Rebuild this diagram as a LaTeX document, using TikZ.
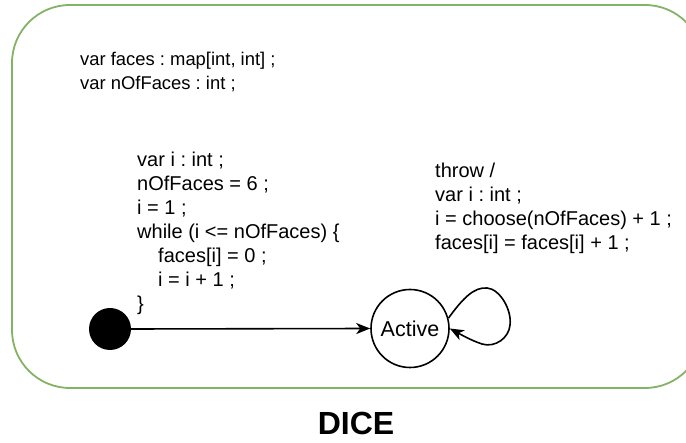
\documentclass[tikz,border=0pt]{standalone}
\usepackage{fontspec}
\setmainfont{Liberation Sans}
\usetikzlibrary{arrows.meta}
\definecolor{frameGreen}{HTML}{82B366}
\frenchspacing
\tikzset{
  codeline/.style={anchor=base west, inner sep=0pt, font=\fontsize{20}{24}\selectfont},
  declline/.style={anchor=base west, inner sep=0pt, font=\fontsize{18.4}{24}\selectfont},
  statecircle/.style={circle, draw, line width=1.6pt, minimum size=78pt, inner sep=0pt, font=\fontsize{21.5}{24}\selectfont},
  initdot/.style={circle, fill=black, minimum size=42pt, inner sep=0pt},
  trans/.style={line width=1.6pt, -{Stealth[length=14pt, width=11pt, inset=4pt]}}
}
\begin{document}
\begin{tikzpicture}[x=1pt, y=-1pt]
\useasboundingbox (0,0) rectangle (686,443);
\clip (0,0) rectangle (686,443);
% state machine frame
\draw[frameGreen, line width=1.8pt, rounded corners=58pt] (12,5) rectangle (703,388);
% declarations
\node[declline] (d1) at (80,66) {var faces : map[int, int] ;};
\node[declline] (d2) at (80,90) {var nOfFaces : int ;};
% initial transition action
\node[codeline] (c1) at (137,167) {var i : int ;};
\node[codeline] (c2) at (137,191) {nOfFaces = 6 ;};
\node[codeline] (c3) at (137,215) {i = 1 ;};
\node[codeline] (c4) at (137,239) {while (i <= nOfFaces) \{};
\node[codeline] (c5) at (158,263) {faces[i] = 0 ;};
\node[codeline] (c6) at (158,287) {i = i + 1 ;};
\node[codeline] (c7) at (137,311) {\}};
% self-transition label
\node[codeline] (t1) at (435,178) {throw /};
\node[codeline] (t2) at (435,202) {var i : int ;};
\node[codeline] (t3) at (435,226) {i = choose(nOfFaces) + 1 ;};
\node[codeline] (t4) at (435,250) {faces[i] = faces[i] + 1 ;};
% states
\node[initdot] (init) at (110,329) {};
\node[statecircle] (active) at (410,328.5) {Active};
% transitions
\draw[trans] (init.east) -- (active.west);
\draw[trans] (active.15) .. controls (463,298) and (474,287) .. (487,288)
  .. controls (500,289) and (512,310) .. (510,325)
  .. controls (509,338) and (495,348) .. (482,344)
  .. controls (470,340) and (460,334) .. (active.0);
% title
\node[anchor=base, inner sep=0pt, font=\fontsize{32}{36}\selectfont\bfseries] (title) at (356,435) {DICE};
\end{tikzpicture}
\end{document}
